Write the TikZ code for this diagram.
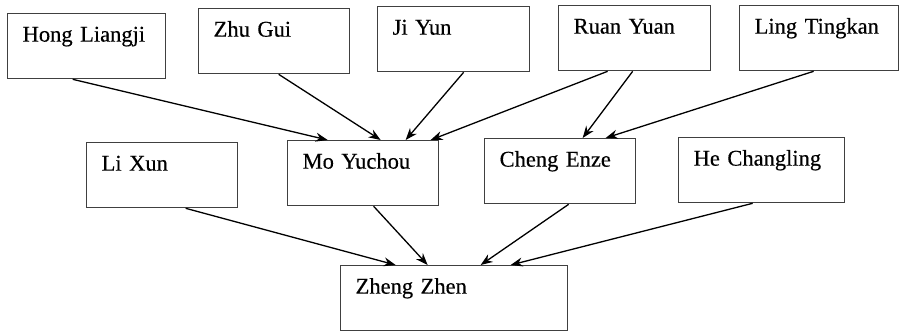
\documentclass[tikz,border=0pt]{standalone}
\usepackage{fontspec}
\setmainfont{Liberation Serif}[FakeBold=0.4]
\usetikzlibrary{arrows.meta}
\tikzstyle{scholar} = [rectangle, draw=black!75, line width=1.3pt, anchor=north west, inner xsep=15pt, inner ysep=0pt, text width=121pt, align=left, text height=28pt, text depth=37pt, font=\fontsize{22.5}{25}\selectfont]
\tikzstyle{arrow} = [line width=1.3pt, -{Stealth[length=12pt,width=9pt]}]

\begin{document}
\begin{tikzpicture}[x=1pt, y=-1pt]
\useasboundingbox (0,0) rectangle (901,331);
%teachers
\node (hong) [scholar, text width=128pt] at (7,13) {Hong Liangji};
\node (zhu) [scholar] at (198,8) {Zhu Gui};
\node (ji) [scholar, text width=122pt] at (377,6) {Ji Yun};
\node (ruan) [scholar, text width=122pt] at (558,5) {Ruan Yuan};
\node (ling) [scholar, text width=129pt] at (739,5) {Ling Tingkan};
%middle row
\node (lixun) [scholar] at (86,142) {Li Xun};
\node (mo) [scholar] at (287,140) {Mo Yuchou};
\node (cheng) [scholar] at (484,138) {Cheng Enze};
\node (he) [scholar, text width=136pt] at (678,137) {He Changling};
%student
\node (zheng) [scholar, text width=197pt] at (340,265) {Zheng Zhen};

%connections
\draw [arrow]([xshift=-14pt]hong.south) -- ([xshift=-35.5pt]mo.north);
\draw [arrow]([xshift=4.5pt]zhu.south) -- ([xshift=17.5pt]mo.north);
\draw [arrow]([xshift=10pt]ji.south) -- ([xshift=42.5pt]mo.north);
\draw [arrow]([xshift=-27pt]ruan.south) -- ([xshift=67.5pt]mo.north);
\draw [arrow]([xshift=-2pt]ruan.south) -- ([xshift=22.5pt]cheng.north);
\draw [arrow]([xshift=-5.5pt]ling.south) -- ([xshift=45.5pt]cheng.north);
\draw [arrow]([xshift=23.5pt]lixun.south) -- ([xshift=-58.5pt]zheng.north);
\draw [arrow]([xshift=10.5pt]mo.south) -- ([xshift=-26.5pt]zheng.north);
\draw [arrow]([xshift=8.5pt]cheng.south) -- ([xshift=26.5pt]zheng.north);
\draw [arrow]([xshift=-9pt]he.south) -- ([xshift=56.5pt]zheng.north);
\end{tikzpicture}
\end{document}
